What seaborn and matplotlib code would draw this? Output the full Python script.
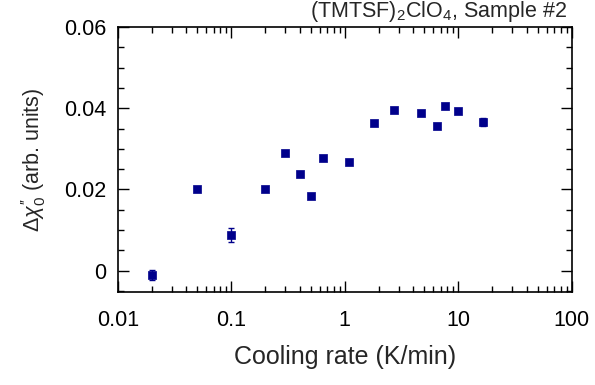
import numpy as np
import pandas as pd
import matplotlib
matplotlib.use("Agg")
import matplotlib.pyplot as plt
import matplotlib.ticker as mticker
import seaborn as sns

# cooling rate (K/min) and Delta chi''_0 (arb. units)
rate = [0.02, 0.05, 0.1, 0.2, 0.3, 0.4, 0.5, 0.64, 1.09, 1.8, 2.7, 4.67, 6.55, 7.6, 9.85, 16.5]
dchi = [-0.0011, 0.0201, 0.0088, 0.0202, 0.0289, 0.0238, 0.0184, 0.0278,
        0.0267, 0.0364, 0.0395, 0.0389, 0.0357, 0.0405, 0.0393, 0.0366]
err = [0.0012, 0.0004, 0.0018, 0.0005, 0.0005, 0.0003, 0.0003, 0.0004,
       0.0003, 0.0003, 0.0003, 0.0003, 0.0003, 0.0004, 0.0003, 0.0009]

df = pd.DataFrame({"rate": rate, "dchi": dchi, "err": err})

sns.set_style("ticks")
plt.rcParams["font.family"] = ["Liberation Sans", "DejaVu Sans"]
plt.rcParams["mathtext.fontset"] = "custom"
plt.rcParams["mathtext.rm"] = "Liberation Sans"
plt.rcParams["mathtext.it"] = "Liberation Sans:italic"

navy = "#00008b"

fig = plt.figure(figsize=(5.95, 3.85), dpi=100)
ax = fig.add_axes([0.198, 0.242, 0.763, 0.688])

ax.errorbar(df["rate"], df["dchi"], yerr=df["err"], fmt="none",
            ecolor=navy, elinewidth=1, capsize=2.5, capthick=1)
sns.scatterplot(data=df, x="rate", y="dchi", marker="s", s=36, color=navy,
                edgecolor=navy, linewidth=0.5, ax=ax, zorder=3)

ax.set_xscale("log")
ax.set_xlim(0.01, 100)
ax.set_ylim(-0.0052, 0.06)
ax.set_xticks([0.01, 0.1, 1, 10, 100])
ax.set_xticklabels(["0.01", "0.1", "1", "10", "100"])
ax.xaxis.set_minor_locator(mticker.LogLocator(base=10, subs=np.arange(2, 10), numticks=20))
ax.xaxis.set_minor_formatter(mticker.NullFormatter())
ax.set_yticks([0, 0.02, 0.04, 0.06])
ax.set_yticklabels(["0", "0.02", "0.04", "0.06"])
ax.yaxis.set_minor_locator(mticker.MultipleLocator(0.005))

ax.tick_params(which="both", direction="in", top=True, right=True, width=1, colors="black")
ax.tick_params(which="major", length=8, labelsize=15.5)
ax.tick_params(axis="x", which="major", pad=13)
ax.tick_params(axis="y", which="major", pad=8)
ax.tick_params(which="minor", length=4.5)
for sp in ax.spines.values():
    sp.set_linewidth(1.2)
    sp.set_color("black")

ax.set_xlabel("Cooling rate (K/min)", fontsize=18, labelpad=10)
ax.set_ylabel(r"$\Delta\mathit{\chi}_0^{\prime\prime}$ (arb. units)", fontsize=15.5, labelpad=12)
ax.text(0.989, 1.01, r"(TMTSF)$_2$ClO$_4$, Sample #2", transform=ax.transAxes,
        ha="right", va="bottom", fontsize=15.5)

fig.savefig("out.png", dpi=100)
